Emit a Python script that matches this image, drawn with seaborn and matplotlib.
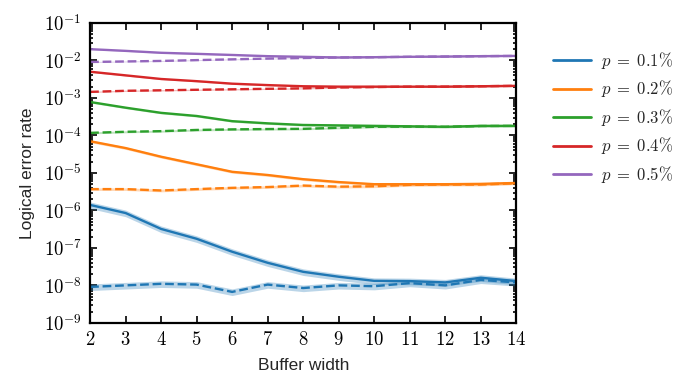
import numpy as np
import pandas as pd
import matplotlib
matplotlib.use("Agg")
import matplotlib.pyplot as plt
import seaborn as sns
from matplotlib.ticker import FuncFormatter, LogLocator

# buffer widths and error rates
widths = [2, 3, 4, 5, 6, 7, 8, 9, 10, 11, 12, 13, 14]
p_labels = ["0.1", "0.2", "0.3", "0.4", "0.5"]

solid_01 = [1.4e-6, 8.5e-7, 3.2e-7, 1.75e-7, 7.9e-8, 4.0e-8, 2.3e-8, 1.7e-8, 1.32e-8, 1.3e-8, 1.2e-8, 1.6e-8, 1.3e-8]
solid_02 = [7.0e-5, 4.6e-5, 2.7e-5, 1.7e-5, 1.07e-5, 8.8e-6, 6.8e-6, 5.7e-6, 5.0e-6, 5.0e-6, 5.0e-6, 5.1e-6, 5.4e-6]
solid_03 = [7.8e-4, 5.5e-4, 4.0e-4, 3.3e-4, 2.4e-4, 2.1e-4, 1.9e-4, 1.85e-4, 1.8e-4, 1.75e-4, 1.7e-4, 1.8e-4, 1.8e-4]
solid_04 = [5.0e-3, 4.0e-3, 3.2e-3, 2.8e-3, 2.4e-3, 2.2e-3, 2.05e-3, 2.0e-3, 2.0e-3, 2.0e-3, 2.0e-3, 2.05e-3, 2.1e-3]
solid_05 = [2.0e-2, 1.8e-2, 1.6e-2, 1.5e-2, 1.4e-2, 1.3e-2, 1.25e-2, 1.2e-2, 1.22e-2, 1.25e-2, 1.27e-2, 1.3e-2, 1.32e-2]

dashed_01 = [9.1e-9, 1.0e-8, 1.1e-8, 1.05e-8, 6.7e-9, 1.05e-8, 8.5e-9, 1.0e-8, 9.5e-9, 1.15e-8, 1.0e-8, 1.4e-8, 1.2e-8]
dashed_02 = [3.7e-6, 3.7e-6, 3.4e-6, 3.7e-6, 4.0e-6, 4.2e-6, 4.6e-6, 4.3e-6, 4.4e-6, 4.8e-6, 4.9e-6, 4.9e-6, 5.3e-6]
dashed_03 = [1.17e-4, 1.25e-4, 1.3e-4, 1.4e-4, 1.45e-4, 1.48e-4, 1.5e-4, 1.6e-4, 1.7e-4, 1.72e-4, 1.7e-4, 1.78e-4, 1.8e-4]
dashed_04 = [1.45e-3, 1.55e-3, 1.6e-3, 1.65e-3, 1.7e-3, 1.75e-3, 1.8e-3, 1.9e-3, 1.95e-3, 2.0e-3, 2.0e-3, 2.05e-3, 2.1e-3]
dashed_05 = [9.1e-3, 9.4e-3, 9.7e-3, 1.02e-2, 1.07e-2, 1.12e-2, 1.16e-2, 1.2e-2, 1.22e-2, 1.25e-2, 1.27e-2, 1.3e-2, 1.32e-2]

# relative width of the shaded band for each p
rel_err = [0.2, 0.08, 0.06, 0.04, 0.03]

solids = [solid_01, solid_02, solid_03, solid_04, solid_05]
dashes = [dashed_01, dashed_02, dashed_03, dashed_04, dashed_05]

rows = []
for lab, s, d in zip(p_labels, solids, dashes):
    for w, a, b in zip(widths, s, d):
        rows.append({"width": w, "rate": a, "p": lab, "kind": "solid"})
        rows.append({"width": w, "rate": b, "p": lab, "kind": "dashed"})
df = pd.DataFrame(rows)

sns.set_theme(style="ticks")
plt.rcParams["mathtext.fontset"] = "cm"
plt.rcParams["font.family"] = ["Liberation Sans", "DejaVu Sans"]
plt.rcParams["axes.edgecolor"] = "black"
plt.rcParams["xtick.color"] = "black"
plt.rcParams["ytick.color"] = "black"

colors = sns.color_palette("tab10", 5)

fig = plt.figure(figsize=(6.93, 3.89), dpi=100)
ax = fig.add_axes([0.13, 0.17, 0.615, 0.771])

for i, lab in enumerate(p_labels):
    for kind, ls in [("solid", "-"), ("dashed", "--")]:
        sub = df[(df.p == lab) & (df.kind == kind)]
        ax.fill_between(sub.width, sub.rate * (1 - rel_err[i]), sub.rate * (1 + rel_err[i]),
                        color=colors[i], alpha=0.3, lw=0)
        sns.lineplot(data=sub, x="width", y="rate", color=colors[i], linestyle=ls,
                     lw=1.7, ax=ax, legend=False)

ax.set_yscale("log")
ax.set_xlim(2, 14)
ax.set_ylim(1e-9, 1e-1)
ax.set_xticks(widths)
ax.xaxis.set_major_formatter(FuncFormatter(lambda v, _: f"${int(v)}$"))
ax.yaxis.set_major_locator(LogLocator(base=10, numticks=20))
ax.yaxis.set_minor_locator(LogLocator(base=10, subs=np.arange(2, 10), numticks=20))
ax.yaxis.set_major_formatter(FuncFormatter(lambda v, _: f"$10^{{{int(round(np.log10(v)))}}}$"))
ax.tick_params(which="both", direction="in", top=True, right=True, labelsize=13.5, width=1.2)
ax.tick_params(which="major", length=5, pad=6)
ax.tick_params(which="minor", length=2.5, top=False)
for sp in ax.spines.values():
    sp.set_linewidth(1.6)
ax.set_xlabel("Buffer width", fontsize=12.5, labelpad=6)
ax.set_ylabel("Logical error rate", fontsize=12.5, labelpad=6)

handles = [plt.Line2D([], [], color=c, lw=2) for c in colors]
ax.legend(handles, [rf"$p\;=\;{l}\%$" for l in p_labels], loc="upper left",
          bbox_to_anchor=(1.05, 0.96), frameon=False, fontsize=12, handlelength=2.3,
          handletextpad=0.6, labelspacing=0.45)

fig.savefig("out.png", dpi=100)
